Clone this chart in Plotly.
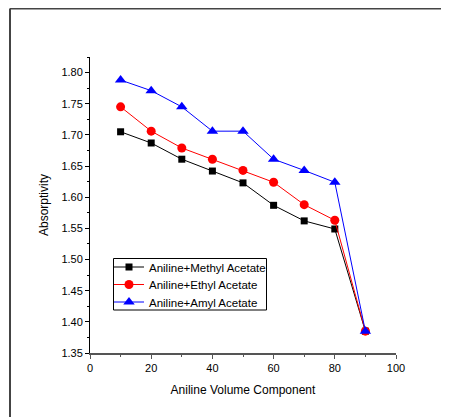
import plotly.graph_objects as go

x_vals = [10, 20, 30, 40, 50, 60, 70, 80, 90]
methyl = [1.705, 1.687, 1.661, 1.642, 1.623, 1.587, 1.562, 1.549, 1.385]
ethyl = [1.745, 1.706, 1.679, 1.661, 1.643, 1.624, 1.588, 1.563, 1.385]
amyl = [1.788, 1.771, 1.745, 1.706, 1.706, 1.661, 1.643, 1.624, 1.385]
names = ["Aniline+Methyl Acetate", "Aniline+Ethyl Acetate", "Aniline+Amyl Acetate"]

FONT = "Liberation Sans, Arial, sans-serif"
OFF = 8  # page body margin offset

W, H = 449, 417
# plot area in screen pixels
L, R, T, B = 90 - OFF, 396 - OFF, 57 - OFF, 353 - OFF
pw, ph = R - L, B - T

def px(xs):
    return (xs - OFF - L) / pw

def py(ys):
    return (B - (ys - OFF)) / ph

fig = go.Figure()
fig.add_trace(go.Scatter(x=x_vals, y=methyl, name=names[0], mode="lines+markers",
                         line=dict(color="black", width=1), legend="legend",
                         marker=dict(symbol="square", size=7, color="black")))
fig.add_trace(go.Scatter(x=x_vals, y=ethyl, name=names[1], mode="lines+markers",
                         line=dict(color="red", width=1), legend="legend2",
                         marker=dict(symbol="circle", size=9, color="red")))
fig.add_trace(go.Scatter(x=x_vals, y=amyl, name=names[2], mode="lines+markers",
                         line=dict(color="blue", width=1), legend="legend3",
                         marker=dict(symbol="triangle-up", size=10, color="blue")))

def leg(yc):
    return dict(x=px(109), y=py(yc), xanchor="left", yanchor="middle",
                borderwidth=0, bgcolor="rgba(0,0,0,0)",
                font=dict(size=11.5, family=FONT), itemwidth=30)

fig.update_layout(
    width=W, height=H,
    margin=dict(l=L, r=W - R, t=T, b=H - B, pad=0),
    paper_bgcolor="white", plot_bgcolor="white",
    font=dict(family=FONT, size=11, color="black"),
    showlegend=True,
    legend=leg(267),
    legend2=leg(284.5),
    legend3=leg(302),
    xaxis=dict(range=[0, 100], tick0=0, dtick=20, showgrid=False, zeroline=False,
               showline=True, linecolor="#555555", linewidth=2,
               ticks="outside", ticklen=4, tickcolor="#555555", tickwidth=1,
               minor=dict(dtick=10, ticks="outside", ticklen=2, tickcolor="#555555"),
               tickfont=dict(size=11),
               title=dict(text="Aniline Volume Component", font=dict(size=12), standoff=12)),
    yaxis=dict(range=[1.35, 1.825], tick0=1.35, dtick=0.05, tickformat=".2f",
               showgrid=False, zeroline=False,
               showline=True, linecolor="black", linewidth=1,
               ticks="outside", ticklen=4, tickcolor="black", tickwidth=1,
               minor=dict(dtick=0.025, ticks="outside", ticklen=2, tickcolor="black"),
               tickfont=dict(size=11),
               title=dict(text="Absorptivity", font=dict(size=12), standoff=10)),
    shapes=[
        dict(type="rect", xref="paper", yref="paper",
             x0=px(113.5), x1=px(266.5), y0=py(258.5), y1=py(310),
             line=dict(color="black", width=1), layer="below"),
        dict(type="line", xref="paper", yref="paper",
             x0=px(10), x1=px(449 + OFF), y0=py(8.5), y1=py(8.5),
             line=dict(color="#444444", width=2)),
        dict(type="line", xref="paper", yref="paper",
             x0=px(10), x1=px(10), y0=py(8.5), y1=py(417 + OFF),
             line=dict(color="#444444", width=2)),
    ],
)

fig.write_html("out.html")
